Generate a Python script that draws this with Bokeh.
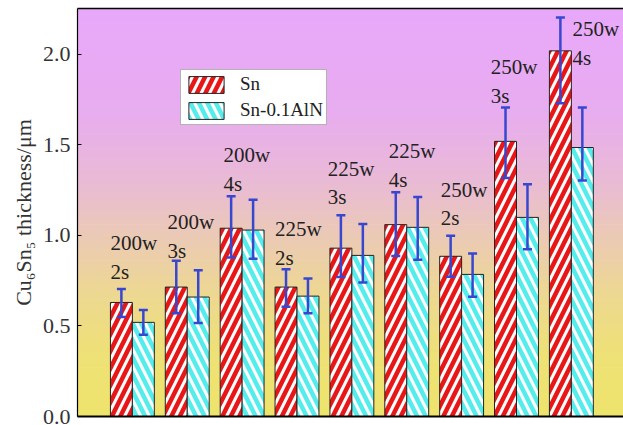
import numpy as np
from bokeh.plotting import figure
from bokeh.models import (Range1d, FixedTicker, LinearAxis, Whisker, TeeHead,
                          ColumnDataSource, Legend, LegendItem)
from bokeh.transform import dodge
from bokeh.core.properties import value
from bokeh.embed import file_html
from bokeh.resources import INLINE

# ---------------- data ----------------
group = [1, 2, 3, 4, 5, 6, 7, 8, 9]
power = ["200w", "200w", "200w", "225w", "225w", "225w", "250w", "250w", "250w"]
dur = ["2s", "3s", "4s", "2s", "3s", "4s", "2s", "3s", "4s"]

sn = [0.63, 0.715, 1.04, 0.715, 0.93, 1.06, 0.885, 1.52, 2.02]
sn_lo = [0.549, 0.571, 0.878, 0.606, 0.770, 0.886, 0.772, 1.317, 1.731]
sn_hi = [0.705, 0.860, 1.217, 0.814, 1.112, 1.239, 0.998, 1.707, 2.204]

aln = [0.52, 0.66, 1.03, 0.665, 0.89, 1.045, 0.785, 1.10, 1.486]
aln_lo = [0.451, 0.516, 0.871, 0.571, 0.740, 0.866, 0.661, 0.924, 1.304]
aln_hi = [0.589, 0.808, 1.197, 0.762, 1.064, 1.212, 0.901, 1.283, 1.707]

series_names = ["Sn", "Sn-0.1AlN"]
yticks = [0.0, 0.5, 1.0, 1.5, 2.0]
ytick_labels = ["0.0", "0.5", "1.0", "1.5", "2.0"]
y_label = "Cu\u2086Sn\u2085 thickness/\u03bcm"

# annotation layout (label anchors)
label_dx = [-0.40, -0.36, -0.34, -0.40, -0.44, -0.33, -0.38, -0.47, 0.02]
label_y = [0.801, 0.917, 1.282, 0.878, 1.210, 1.304, 1.094, 1.773, 1.983]
LINE_GAP = 0.16

# ---------------- styles ----------------
RED = "#E81616"
CYAN = "#55ECEC"
BLUE = "#3847D0"
FONT = "Liberation Serif"
X0, X1 = 0, 9.95
Y0, Y1 = 0, 2.254

p = figure(width=623, height=425, output_backend="svg", toolbar_location=None,
           x_range=Range1d(X0, X1), y_range=Range1d(Y0, Y1),
           min_border_left=77, min_border_right=0, min_border_top=8,
           min_border_bottom=9)
p.grid.visible = False
p.outline_line_color = None
p.border_fill_color = "white"

# gradient background (magenta top -> yellow bottom)
stops_t = [0.0, 0.25, 0.42, 0.55, 0.70, 0.85, 1.0]
stops_c = [(232, 168, 250), (232, 172, 240), (233, 186, 214), (235, 201, 184),
           (237, 216, 146), (238, 225, 118), (238, 228, 108)]
N = 400
img = np.zeros((N, 1), dtype=np.uint32)
view = img.view(dtype=np.uint8).reshape((N, 1, 4))
for r in range(N):
    t = 1.0 - r / (N - 1)
    for ch in range(3):
        view[r, 0, ch] = int(round(np.interp(t, stops_t, [c[ch] for c in stops_c])))
    view[r, 0, 3] = 255
p.image_rgba(image=[img], x=X0, y=Y0, dw=X1 - X0, dh=Y1 - Y0, level="image")

src = ColumnDataSource(dict(x=group, sn=sn, sn_lo=sn_lo, sn_hi=sn_hi,
                            aln=aln, aln_lo=aln_lo, aln_hi=aln_hi))

r1 = p.vbar(x=dodge("x", -0.2, range=p.x_range), top="sn", width=0.4, source=src,
            fill_color="white", hatch_pattern="/", hatch_color=RED,
            hatch_scale=17, hatch_weight=4.5, line_color="#222222", line_width=1)
r2 = p.vbar(x=dodge("x", 0.2, range=p.x_range), top="aln", width=0.4, source=src,
            fill_color="white", hatch_pattern="\\", hatch_color=CYAN,
            hatch_scale=17, hatch_weight=4.5, line_color="#222222", line_width=1)

for off, lo, hi in [(-0.2, "sn_lo", "sn_hi"), (0.2, "aln_lo", "aln_hi")]:
    w = Whisker(base=dodge("x", off, range=p.x_range), lower=lo, upper=hi, source=src,
                line_color=BLUE, line_width=2.5,
                upper_head=TeeHead(size=9, line_color=BLUE, line_width=2.5),
                lower_head=TeeHead(size=9, line_color=BLUE, line_width=2.5),
                level="overlay")
    p.add_layout(w)

# condition labels
lx = [g + d for g, d in zip(group, label_dx)]
ly_w = [y + LINE_GAP for y in label_y]
p.text(x=lx, y=ly_w, text=power, text_font=value(FONT), text_font_size="21px",
       text_color="#222222", text_baseline="middle", text_align="left")
p.text(x=lx, y=label_y, text=dur, text_font=value(FONT), text_font_size="21px",
       text_color="#222222", text_baseline="middle", text_align="left")

legend = Legend(items=[LegendItem(label=series_names[0], renderers=[r1]),
                       LegendItem(label=series_names[1], renderers=[r2])],
                location=(103, 291), orientation="vertical")
legend.label_text_font = FONT
legend.label_text_font_size = "19px"
legend.label_text_color = "#222222"
legend.glyph_width = 44
legend.glyph_height = 21
legend.label_height = 21
legend.label_standoff = 12
legend.spacing = 4
legend.padding = 3
legend.margin = 0
legend.border_line_color = "#666666"
legend.border_line_width = 1
legend.background_fill_color = "white"
legend.background_fill_alpha = 1.0
p.add_layout(legend)

# y axis
ya = p.yaxis[0]
ya.ticker = FixedTicker(ticks=yticks)
ya.major_label_overrides = {t: s for t, s in zip(yticks, ytick_labels)}
ya.major_label_text_font = FONT
ya.major_label_text_font_size = "22px"
ya.major_label_text_color = "#333333"
ya.major_tick_in = 4
ya.major_tick_out = 0
ya.minor_tick_line_color = None
ya.major_label_standoff = 7
ya.axis_label = y_label
ya.axis_label_text_font = FONT
ya.axis_label_text_font_size = "22px"
ya.axis_label_text_font_style = "normal"
ya.axis_label_text_color = "#333333"
ya.axis_label_standoff = 4
ya.axis_line_width = 1.2

# x axis (bare line)
xa = p.xaxis[0]
xa.ticker = FixedTicker(ticks=[])
xa.major_tick_out = 0
xa.major_tick_in = 0
xa.minor_tick_out = 0
xa.minor_tick_in = 0
xa.major_label_standoff = 0
xa.axis_line_width = 2

top = LinearAxis(ticker=FixedTicker(ticks=[]), major_tick_out=0, major_tick_in=0,
                 minor_tick_out=0, minor_tick_in=0, major_label_standoff=0,
                 axis_line_width=1.5)
p.add_layout(top, "above")

open("out.html", "w").write(file_html(p, INLINE))
